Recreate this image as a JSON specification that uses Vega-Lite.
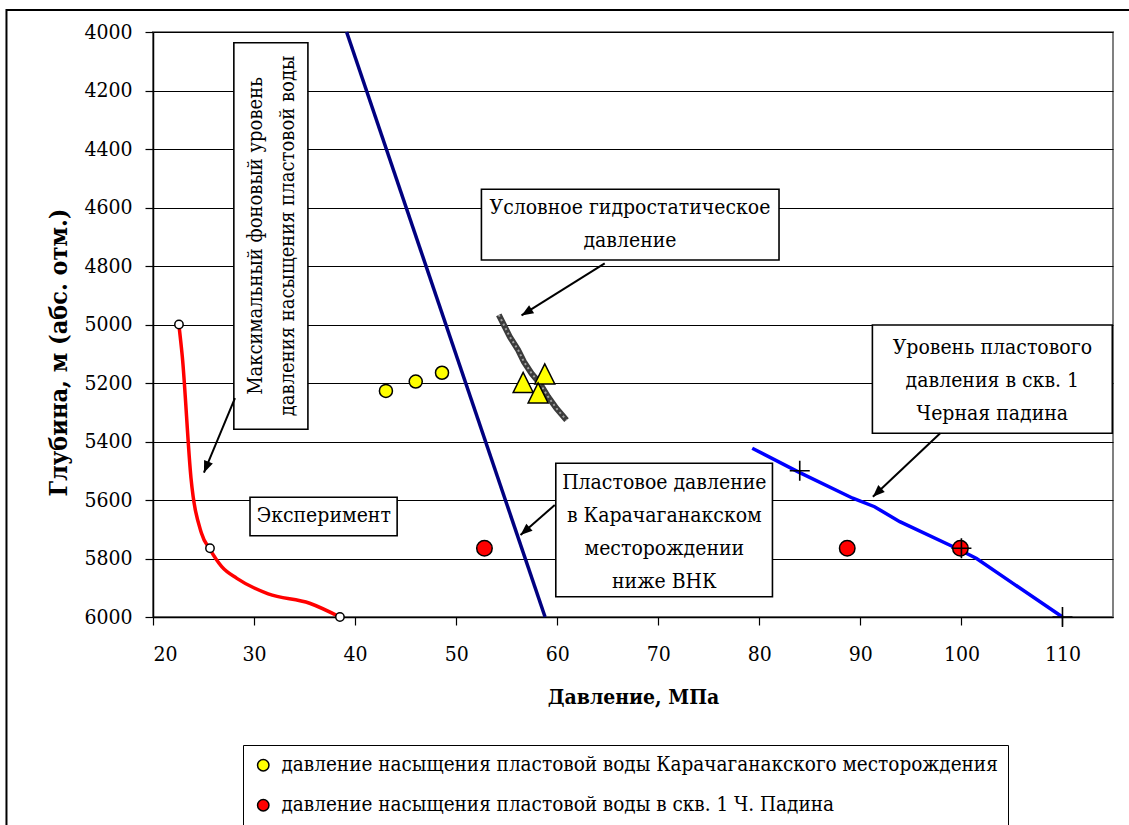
{
  "$schema": "https://vega.github.io/schema/vega-lite/v6.json",
  "autosize": {"type": "none"},
  "width": 960,
  "height": 585,
  "padding": {"left": 153, "top": 32, "right": 16, "bottom": 208},
  "background": "white",
  "config": {
    "font": "DejaVu Serif Condensed",
    "view": {"stroke": "#808080", "strokeWidth": 2},
    "axis": {
      "labelFont": "DejaVu Serif Condensed",
      "labelFontSize": 21,
      "labelColor": "black",
      "tickColor": "black",
      "tickSize": 8,
      "tickWidth": 1.2,
      "domainColor": "black",
      "domainWidth": 1.5,
      "titleFont": "DejaVu Serif Condensed",
      "titleFontSize": 21,
      "titleFontWeight": "bold",
      "titleColor": "black",
      "gridColor": "black",
      "gridWidth": 1,
      "gridOpacity": 1
    },
    "legend": {
      "labelFont": "DejaVu Serif Condensed",
      "labelFontSize": 20.5,
      "labelColor": "black",
      "labelLimit": 1000,
      "labelOffset": 8,
      "symbolType": "circle",
      "symbolSize": 130,
      "symbolStrokeColor": "black",
      "symbolStrokeWidth": 1.5,
      "symbolFillColor": "white",
      "strokeColor": "black",
      "padding": 10,
      "rowPadding": 19
    }
  },
  "datasets": {
    "frame": [{"p": 5.5, "p2": 140, "depth": 3925, "depth2": 7500}],
    "experiment": [
      {"ord": 1, "p": 22.57, "depth": 5004},
      {"ord": 2, "p": 22.9, "depth": 5110},
      {"ord": 3, "p": 23.76, "depth": 5525},
      {"ord": 4, "p": 24.8, "depth": 5714},
      {"ord": 5, "p": 25.64, "depth": 5769},
      {"ord": 6, "p": 26.8, "depth": 5828},
      {"ord": 7, "p": 28.3, "depth": 5868},
      {"ord": 8, "p": 31.4, "depth": 5921},
      {"ord": 9, "p": 35.5, "depth": 5953},
      {"ord": 10, "p": 38.5, "depth": 6000}
    ],
    "experimentPoints": [
      {"p": 22.57, "depth": 5000},
      {"p": 25.64, "depth": 5765},
      {"p": 38.5, "depth": 6000}
    ],
    "karachLevel": [
      {"ord": 1, "p": 39.16, "depth": 4000},
      {"ord": 2, "p": 58.8, "depth": 6000}
    ],
    "hydrostatic": [
      {"ord": 1, "p": 54.22, "depth": 4967},
      {"ord": 2, "p": 55.31, "depth": 5042},
      {"ord": 3, "p": 56.13, "depth": 5087},
      {"ord": 4, "p": 56.7, "depth": 5127},
      {"ord": 5, "p": 57.46, "depth": 5167},
      {"ord": 6, "p": 58.28, "depth": 5201},
      {"ord": 7, "p": 59.1, "depth": 5247},
      {"ord": 8, "p": 59.93, "depth": 5287},
      {"ord": 9, "p": 60.92, "depth": 5327}
    ],
    "padinaLevel": [
      {"ord": 1, "p": 79.3, "depth": 5423},
      {"ord": 2, "p": 83.8, "depth": 5503},
      {"ord": 3, "p": 89.25, "depth": 5594},
      {"ord": 4, "p": 91.4, "depth": 5623},
      {"ord": 5, "p": 93.9, "depth": 5674},
      {"ord": 6, "p": 99.5, "depth": 5765},
      {"ord": 7, "p": 101.5, "depth": 5800},
      {"ord": 8, "p": 105.1, "depth": 5885},
      {"ord": 9, "p": 110, "depth": 6000}
    ],
    "padinaMeasured": [
      {"p": 84, "depth": 5500},
      {"p": 100, "depth": 5765},
      {"p": 110, "depth": 6000}
    ],
    "satKarach": [
      {"series": "давление насыщения пластовой воды Карачаганакского месторождения", "p": 43.05, "depth": 5227},
      {"series": "давление насыщения пластовой воды Карачаганакского месторождения", "p": 46.0, "depth": 5195},
      {"series": "давление насыщения пластовой воды Карачаганакского месторождения", "p": 48.6, "depth": 5165}
    ],
    "satKarachTri": [
      {"p": 56.63, "depth": 5198},
      {"p": 58.77, "depth": 5169},
      {"p": 58.11, "depth": 5234}
    ],
    "satPadina": [
      {"series": "давление насыщения пластовой воды в скв. 1 Ч. Падина", "p": 52.8, "depth": 5765},
      {"series": "давление насыщения пластовой воды в скв. 1 Ч. Падина", "p": 88.7, "depth": 5765},
      {"series": "давление насыщения пластовой воды в скв. 1 Ч. Падина", "p": 99.9, "depth": 5765}
    ],
    "boxes": [
      {"id": "max", "p": 28.0, "p2": 35.33, "depth": 4036.6, "depth2": 5358},
      {"id": "hydro", "p": 52.5, "p2": 81.95, "depth": 4537.8, "depth2": 4779.5},
      {"id": "exp", "p": 29.6, "p2": 44.16, "depth": 5590.8, "depth2": 5722},
      {"id": "karach", "p": 59.86, "p2": 81.3, "depth": 5474.6, "depth2": 5930.6},
      {"id": "padina", "p": 91.19, "p2": 114.93, "depth": 5001.7, "depth2": 5372}
    ],
    "notes": [
      {"id": "hydro", "p": 67.2, "depth": 4602.7, "text": "Условное гидростатическое\nдавление"},
      {"id": "exp", "p": 36.9, "depth": 5656.4, "text": "Эксперимент"},
      {"id": "karach", "p": 70.6, "depth": 5543, "text": "Пластовое давление\nв Карачаганакском\nместорождении\nниже ВНК"},
      {"id": "padina", "p": 103.06, "depth": 5081.4, "text": "Уровень пластового\nдавления в скв. 1\nЧерная падина"}
    ],
    "vnotes": [
      {"id": "max", "p": 30.19, "depth": 4697.3, "text": "Максимальный фоновый уровень\nдавления  насыщения пластовой воды"}
    ],
    "arrows": [
      {"id": "max", "p": 28.11, "depth": 5252, "p2": 25.04, "depth2": 5506.5},
      {"id": "hydro", "p": 64.7, "depth": 4790.8, "p2": 56.47, "depth2": 4968.9},
      {"id": "karach", "p": 59.76, "depth": 5617, "p2": 56.37, "depth2": 5719.7},
      {"id": "padina", "p": 97.9, "depth": 5372, "p2": 91.24, "depth2": 5588.6}
    ]
  },
  "encoding": {
    "x": {
      "field": "p",
      "type": "quantitative",
      "scale": {"domain": [20, 115], "nice": false, "zero": false},
      "axis": {
        "title": "Давление, МПа",
        "values": [20, 30, 40, 50, 60, 70, 80, 90, 100, 110],
        "format": "d",
        "grid": false,
        "labelPadding": 18,
        "titlePadding": 22
      }
    },
    "y": {
      "field": "depth",
      "type": "quantitative",
      "scale": {"domain": [4000, 6000], "nice": false, "zero": false, "reverse": true},
      "axis": {
        "title": "Глубина, м (абс. отм.)",
        "titleFontSize": 25,
        "titleY": 320,
        "values": [4000, 4200, 4400, 4600, 4800, 5000, 5200, 5400, 5600, 5800, 6000],
        "format": "d",
        "grid": true,
        "labelPadding": 13,
        "titlePadding": 12
      }
    }
  },
  "layer": [
    {
      "data": {"name": "frame"},
      "mark": {"type": "rect", "fill": "transparent", "stroke": "black", "strokeWidth": 2},
      "encoding": {"x2": {"field": "p2"}, "y2": {"field": "depth2"}}
    },
    {
      "data": {"name": "karachLevel"},
      "mark": {"type": "line", "color": "#000080", "strokeWidth": 3.5},
      "encoding": {"order": {"field": "ord"}}
    },
    {
      "data": {"name": "hydrostatic"},
      "mark": {"type": "line", "color": "#3c3c3c", "strokeWidth": 6},
      "encoding": {"order": {"field": "ord"}}
    },
    {
      "data": {"name": "hydrostatic"},
      "mark": {"type": "line", "color": "#a0a0a0", "strokeWidth": 2, "strokeDash": [2, 3]},
      "encoding": {"order": {"field": "ord"}}
    },
    {
      "data": {"name": "experiment"},
      "mark": {"type": "line", "color": "#ff0000", "strokeWidth": 3.5, "interpolate": "monotone"},
      "encoding": {"order": {"field": "ord"}}
    },
    {
      "data": {"name": "experimentPoints"},
      "mark": {"type": "point", "shape": "circle", "size": 70, "filled": true, "fill": "white", "stroke": "black", "strokeWidth": 1.5, "opacity": 1}
    },
    {
      "data": {"name": "padinaLevel"},
      "mark": {"type": "line", "color": "#0000ff", "strokeWidth": 3.5},
      "encoding": {"order": {"field": "ord"}}
    },
    {
      "data": {"name": "satKarach"},
      "mark": {"type": "point", "shape": "circle", "size": 170, "filled": true, "stroke": "black", "strokeWidth": 1.5, "opacity": 1},
      "encoding": {
        "fill": {
          "field": "series",
          "type": "nominal",
          "scale": {
            "domain": ["давление насыщения пластовой воды Карачаганакского месторождения", "давление насыщения пластовой воды в скв. 1 Ч. Падина"],
            "range": ["#ffff00", "#ff0000"]
          },
          "legend": {"title": null, "orient": "none", "legendX": 90, "legendY": 713, "direction": "vertical"}
        }
      }
    },
    {
      "data": {"name": "satKarachTri"},
      "mark": {"type": "point", "shape": "M0,-1L-1,1L1,1Z", "size": 400, "filled": true, "fill": "#ffff00", "stroke": "black", "strokeWidth": 1.5, "opacity": 1}
    },
    {
      "data": {"name": "satPadina"},
      "mark": {"type": "point", "shape": "circle", "size": 240, "filled": true, "stroke": "black", "strokeWidth": 1.5, "opacity": 1},
      "encoding": {"fill": {"field": "series", "type": "nominal"}}
    },
    {
      "data": {"name": "padinaMeasured"},
      "mark": {"type": "point", "shape": "M-1,0H1M0,-1V1", "size": 400, "filled": false, "stroke": "black", "strokeWidth": 1.6, "opacity": 1}
    },
    {
      "data": {"name": "boxes"},
      "mark": {"type": "rect", "fill": "white", "stroke": "black", "strokeWidth": 1.6},
      "encoding": {"x2": {"field": "p2"}, "y2": {"field": "depth2"}}
    },
    {
      "data": {"name": "notes"},
      "mark": {"type": "text", "font": "DejaVu Serif Condensed", "fontSize": 21, "color": "black", "align": "center", "baseline": "middle", "lineBreak": "\n", "lineHeight": 33},
      "encoding": {"text": {"field": "text"}}
    },
    {
      "data": {"name": "vnotes"},
      "mark": {"type": "text", "font": "DejaVu Serif Condensed", "fontSize": 20, "color": "black", "align": "center", "baseline": "middle", "angle": 270, "lineBreak": "\n", "lineHeight": 32},
      "encoding": {"text": {"field": "text"}}
    },
    {
      "data": {"name": "arrows"},
      "mark": {"type": "rule", "color": "black", "strokeWidth": 2},
      "encoding": {"x2": {"field": "p2"}, "y2": {"field": "depth2"}}
    },
    {
      "data": {"name": "arrows"},
      "transform": [{"filter": "datum.id === 'max'"}],
      "mark": {"type": "point", "shape": "M0,0L-0.4,1L0.4,1Z", "size": 560, "filled": true, "fill": "black", "opacity": 1, "angle": 202.6},
      "encoding": {"x": {"field": "p2", "type": "quantitative"}, "y": {"field": "depth2", "type": "quantitative"}}
    },
    {
      "data": {"name": "arrows"},
      "transform": [{"filter": "datum.id === 'hydro'"}],
      "mark": {"type": "point", "shape": "M0,0L-0.4,1L0.4,1Z", "size": 560, "filled": true, "fill": "black", "opacity": 1, "angle": 238.2},
      "encoding": {"x": {"field": "p2", "type": "quantitative"}, "y": {"field": "depth2", "type": "quantitative"}}
    },
    {
      "data": {"name": "arrows"},
      "transform": [{"filter": "datum.id === 'karach'"}],
      "mark": {"type": "point", "shape": "M0,0L-0.4,1L0.4,1Z", "size": 560, "filled": true, "fill": "black", "opacity": 1, "angle": 228.8},
      "encoding": {"x": {"field": "p2", "type": "quantitative"}, "y": {"field": "depth2", "type": "quantitative"}}
    },
    {
      "data": {"name": "arrows"},
      "transform": [{"filter": "datum.id === 'padina'"}],
      "mark": {"type": "point", "shape": "M0,0L-0.4,1L0.4,1Z", "size": 560, "filled": true, "fill": "black", "opacity": 1, "angle": 226.75},
      "encoding": {"x": {"field": "p2", "type": "quantitative"}, "y": {"field": "depth2", "type": "quantitative"}}
    }
  ]
}
